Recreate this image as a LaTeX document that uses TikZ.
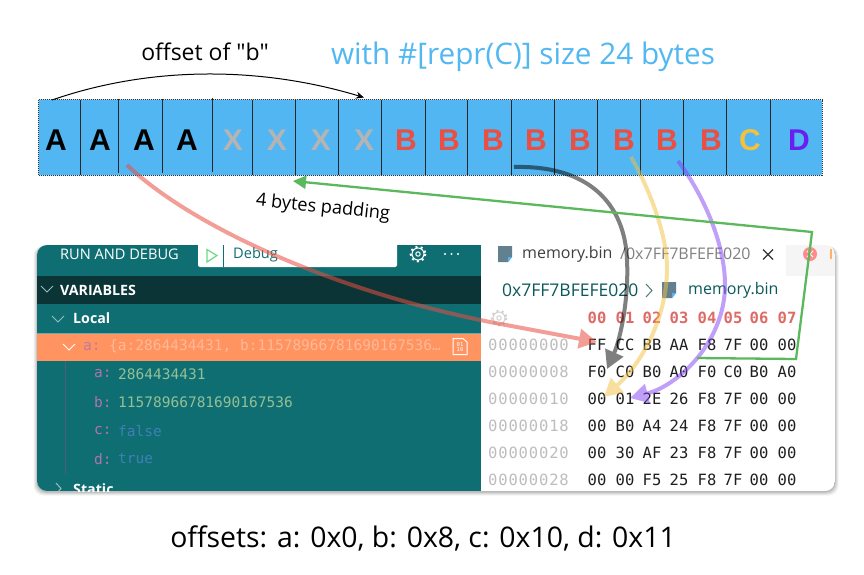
\documentclass[tikz,border=0pt]{standalone}
\usepackage{fontspec}
\usetikzlibrary{arrows.meta}
\setmainfont{Liberation Sans}
\newfontfamily\uifont{Open Sans}
\newfontfamily\hexfont{DejaVu Sans Mono}
\newfontfamily\addrfont[LetterSpace=5.5]{DejaVu Sans Mono}
\definecolor{cellblue}{HTML}{52B6F2}
\definecolor{teal1}{HTML}{0F6E72}
\definecolor{teal2}{HTML}{0A3436}
\definecolor{orangebar}{HTML}{FF9460}
\definecolor{redB}{HTML}{E94F43}
\definecolor{yelC}{HTML}{F5C13C}
\definecolor{purD}{HTML}{6A1FF0}
\definecolor{greyX}{HTML}{B4B4B4}
\definecolor{titleblue}{HTML}{52B8F2}
\definecolor{hexhead}{HTML}{DD6A64}
\definecolor{addr}{HTML}{BDBDBD}
\definecolor{varname}{HTML}{B272AE}
\definecolor{valnum}{HTML}{93C096}
\definecolor{valbool}{HTML}{3F7FB5}
\definecolor{arrowgreen}{HTML}{5CB85C}
\definecolor{iconblue}{HTML}{62808F}
\tikzset{
  x=1pt,y=-1pt,
  cellletter/.style={font=\fontsize{30}{30}\selectfont\bfseries,inner sep=0pt},
  hexcell/.style={font=\hexfont\fontsize{15.5}{16}\selectfont,inner sep=0pt,text=black!88},
  hexheadcell/.style={font=\hexfont\bfseries\fontsize{15.5}{16}\selectfont,inner sep=0pt,text=hexhead},
  addrcell/.style={font=\addrfont\fontsize{15.5}{16}\selectfont,inner sep=0pt,text=addr,anchor=west},
  uilabel/.style={font=\uifont\fontsize{14.6}{15}\selectfont,inner sep=0pt,anchor=west},
  uibold/.style={font=\uifont\bfseries\fontsize{14.2}{15}\selectfont,inner sep=0pt,anchor=west,text=white},
  varcell/.style={font=\hexfont\fontsize{14.5}{15}\selectfont,inner sep=0pt,anchor=west},
  chev/.style={draw=white!55!teal1,line width=1pt},
  thickarrow/.style={line width=4pt,-{Triangle[length=18pt,width=19pt]}},
  greenarrow/.style={draw=arrowgreen,line width=2.3pt,-{Triangle[length=13pt,width=13pt]}},
}
\newcommand{\gearicon}[2]{%
  \draw[#2,line width=1pt] #1 circle[radius=2.2];
  \draw[#2,line width=1pt] #1 circle[radius=6];
  \draw[#2,line width=2.2pt,dash pattern=on 2pt off 3.2pt] #1 circle[radius=7.2];
}
\newcommand{\fileicon}[1]{%
  \fill[iconblue] #1 ++(-7,-8) -- ++(14,0) -- ++(0,11) -- ++(-4,5) -- ++(-10,0) -- cycle;
  \fill[cellblue] #1 ++(3,8) -- ++(4,-5) -- ++(-4,0) -- cycle;
}
\begin{document}
\begin{tikzpicture}
\useasboundingbox (0,0) rectangle (864,574);
\fill[white] (0,0) rectangle (864,574);

% ---- byte row
\fill[cellblue,rounded corners=1.5pt] (38.7,99.7) rectangle (822,175.3);
\draw[black!80,line width=1pt,dash pattern=on 1pt off 1pt] (38.7,99.7) rectangle (822,175.3);
\foreach \xa/\ya/\yb in {80/100/175,118.7/99/173,162/99/173,212/98/172,252/100/175,295.7/100/175,338.7/100/175,381.7/100/175,425/100/175,467.7/100/175,511/100/175,554/100/175,597/100/175,640/100/175,683/100/175,726/100/175,770/100/175}
  \draw[black!85,line width=1pt] (\xa,\ya) -- (\xa,\yb);
\foreach \i/\xa/\l/\c in {1/56/A/black,2/100/A/black,3/144/A/black,4/187/A/black,5/233/X/greyX,6/277/X/greyX,7/321/X/greyX,8/364/X/greyX,9/406/B/redB,10/449/B/redB,11/493/B/redB,12/536/B/redB,13/580/B/redB,14/624/B/redB,15/667/B/redB,16/711/B/redB,17/750/C/yelC,18/799/D/purD}
  \node[cellletter,text=\c] (cell\i) at (\xa,140) {\l};

% ---- titles
\node[inner sep=0pt,font=\uifont\fontsize{23}{23}\selectfont] (offsetb) at (205,52) {offset of "b"};
\node[inner sep=0pt,font=\uifont\fontsize{29.7}{30}\selectfont,text=titleblue] (title) at (523,57) {with \#[repr(C)] size 24 bytes};
\node[inner sep=0pt,rotate=-6,font=\uifont\fontsize{18.2}{18}\selectfont] (padding) at (323,208) {4 bytes padding};
\node[inner sep=0pt,font=\uifont\fontsize{28.4}{28}\selectfont] (offsets) at (423,538) {offsets: a: 0x0, b: 0x8, c: 0x10, d: 0x11};

% ---- screenshot shadow
\foreach \g/\o in {3.5/.05,2.5/.06,1.5/.08,.5/.1}
  \fill[black,opacity=\o,rounded corners=10pt] (37-\g,246) rectangle (835+\g,491+\g+1);

\begin{scope}
\clip[rounded corners=10pt] (37,245) rectangle (835,491);
\fill[white] (37,245) rectangle (835,491);
% left panel
\fill[teal1] (37,245) rectangle (481,491);
\fill[teal2] (37,276) rectangle (481,304);
\fill[orangebar] (37,333) rectangle (481,361);
\draw[white!40!teal1,line width=.5pt] (37,333) -- (481,333);
\fill[white,rounded corners=2pt] (198,240) rectangle (397,267);
\fill[teal1] (222.5,245) rectangle (224,267);
\draw[line width=1.2pt,draw=green!55!teal1!60!white] (207,249.5) -- (217,255.5) -- (207,262) -- cycle;
\node[uilabel,text=teal1] (debug) at (233,254.5) {Debug};
\node[uilabel,text=white] (runlabel) at (60,254) {RUN AND DEBUG};
\gearicon{(418,254)}{white}
\fill[white] (445,254) circle[radius=1.2] (451.5,254) circle[radius=1.2] (458,254) circle[radius=1.2];
\draw[chev] (41,286) -- (47,292) -- (53,286);
\node[uibold] (variables) at (60,290) {VARIABLES};
\draw[chev] (52,316) -- (58,322) -- (64,316);
\node[uibold] (local) at (73,318.5) {Local};
\draw[draw=white,line width=1pt] (63,344) -- (69,350) -- (75,344);
\node[varcell,text=varname!80!orangebar] (rowa) at (83,346.5) {a:};
\node[varcell,text=white!35!orangebar] (rowaval) at (109,346.5) {\{a:2864434431, b:11578966781690167536…};
\draw[white,line width=1pt] (453,338.5) -- (463,338.5) -- (467,342) -- (467,354.5) -- (453,354.5) -- cycle;
\node[inner sep=0pt,text=white,font=\hexfont\fontsize{5.5}{6}\selectfont,align=center] (binicon) at (460,346.5) {01\\[-1pt]10};
\draw[black!30!varname!60!teal1,line width=.8pt] (65.5,361) -- (65.5,474);
\node[varcell,text=varname] (fa) at (94,374) {a:};
\node[varcell,text=valnum] (va) at (118,374) {2864434431};
\node[varcell,text=varname] (fb) at (94,402.5) {b:};
\node[varcell,text=valnum] (vb) at (118,402.5) {11578966781690167536};
\node[varcell,text=varname] (fc) at (94,431) {c:};
\node[varcell,text=valbool] (vc) at (118,431) {false};
\node[varcell,text=varname] (fd) at (94,459) {d:};
\node[varcell,text=valbool] (vd) at (118,459) {true};
\draw[chev] (56,483) -- (61,488.5) -- (56,494);
\node[uibold] (static) at (73,489.5) {Static};
% right panel
\fill[black!4] (786,245) rectangle (835,276);
\fileicon{(505,254)}
\node[uilabel,text=black!75,font=\uifont\fontsize{16}{16}\selectfont] (tabname) at (522,254) {memory.bin};
\node[uilabel,text=black!50,font=\uifont\fontsize{16}{16}\selectfont] (tabpath) at (620,254) {/0x7FF7BFEFE020};
\draw[black!80,line width=1.1pt] (763,249.5) -- (773,259.5) (763,259.5) -- (773,249.5);
\fill[red!45!white] (810,254) circle[radius=7];
\draw[white,line width=1pt] (807,251) -- (813,257) (807,257) -- (813,251);
\fill[orange!60] (829.5,249) rectangle (832,259);
\node[uilabel,text=teal1!80!black,font=\uifont\fontsize{17.5}{18}\selectfont] (crumba) at (502,290.5) {0x7FF7BFEFE020};
\draw[teal1!60!black!70,line width=1pt] (646,284) -- (652,290.5) -- (646,297);
\fileicon{(669,290)}
\node[uilabel,text=teal1!80!black,font=\uifont\fontsize{16}{16}\selectfont] (crumbb) at (688,290.5) {memory.bin};
\gearicon{(499,318)}{black!18}
% hex header
\foreach \i/\xa/\t in {0/597/00,1/625/01,2/652/02,3/679/03,4/707/04,5/733/05,6/759/06,7/787/07}
  \node[hexheadcell] (head\i) at (\xa,318) {\t};
% hex rows
\foreach \r/\y/\ad/\a/\b/\c/\d/\e/\f/\g/\h in {
  0/345/00000000/FF/CC/BB/AA/F8/7F/00/00,
  1/372/00000008/F0/C0/B0/A0/F0/C0/B0/A0,
  2/399/00000010/00/01/2E/26/F8/7F/00/00,
  3/426/00000018/00/B0/A4/24/F8/7F/00/00,
  4/453/00000020/00/30/AF/23/F8/7F/00/00,
  5/480/00000028/00/00/F5/25/F8/7F/00/00}{
  \node[addrcell] (addr\r) at (488,\y) {\ad};
  \node[hexcell] (h\r a) at (597,\y) {\a};
  \node[hexcell] (h\r b) at (625,\y) {\b};
  \node[hexcell] (h\r c) at (652,\y) {\c};
  \node[hexcell] (h\r d) at (679,\y) {\d};
  \node[hexcell] (h\r e) at (707,\y) {\e};
  \node[hexcell] (h\r f) at (733,\y) {\f};
  \node[hexcell] (h\r g) at (759,\y) {\g};
  \node[hexcell] (h\r h) at (787,\y) {\h};
}
\end{scope}

% ---- connector anchors
\coordinate (arcS) at (52,100);
\coordinate (arcE) at (364,97.5);
\coordinate (pinkS) at (127,165);
\coordinate (pinkM) at (490,322);
\coordinate (pinkE) at (597,342);
\coordinate (greyS) at (514,167);
\coordinate (greyM) at (627,260);
\coordinate (greyE) at (607,369);
\coordinate (yelS) at (631,157);
\coordinate (yelM) at (667,268);
\coordinate (yelE) at (604,397);
\coordinate (purS) at (678,161);
\coordinate (purM) at (725,285);
\coordinate (purE) at (630,398);
\coordinate (grA) at (697,358);
\coordinate (grB) at (796,359);
\coordinate (grC) at (812,232);
\coordinate (grD) at (293,181);

% ---- connectors
\draw[black,line width=1pt,-{Stealth[length=8pt,width=7pt]}] (arcS) .. controls (150,66) and (260,66) .. (arcE);
\begin{scope}[transparency group,opacity=.55]
  \draw[thickarrow,draw=redB] (pinkS) .. controls (190,225) and (330,290) .. (pinkM) -- (pinkE);
\end{scope}
\begin{scope}[transparency group,opacity=.5]
  \draw[thickarrow,draw=black] (greyS) .. controls (590,165) and (625,205) .. (greyM) .. controls (629,300) and (620,340) .. (greyE);
\end{scope}
\begin{scope}[transparency group,opacity=.5]
  \draw[thickarrow,draw=yelC] (yelS) .. controls (650,190) and (667,235) .. (yelM) .. controls (667,320) and (640,365) .. (yelE);
\end{scope}
\begin{scope}[transparency group,opacity=.5]
  \draw[thickarrow,draw=purD!85!white] (purS) .. controls (700,190) and (725,240) .. (purM) .. controls (725,340) and (680,385) .. (purE);
\end{scope}
\draw[greenarrow] (grA) -- (grB) -- (grC) -- (grD);
\end{tikzpicture}
\end{document}
